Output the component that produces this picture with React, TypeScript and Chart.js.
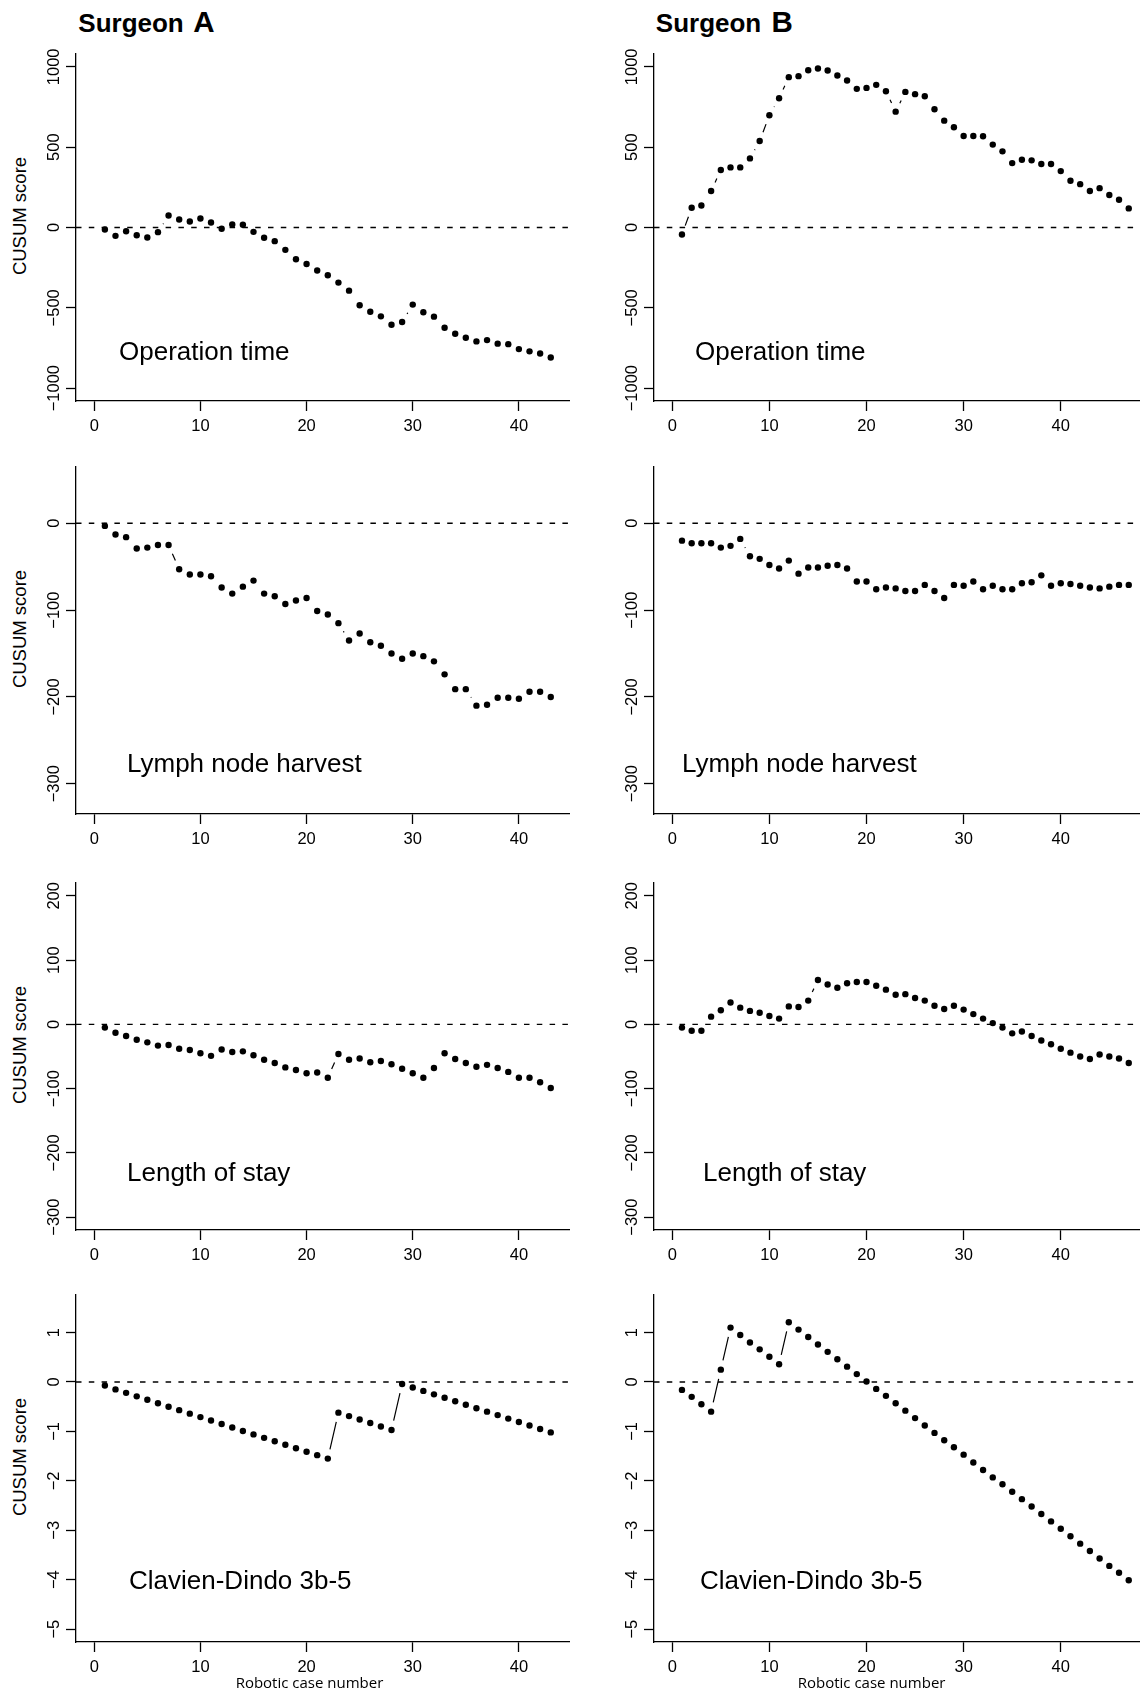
import React, { useEffect, useRef } from "react";
import { Chart, registerables } from "chart.js";

Chart.register(...registerables);

// ---------------- DATA ----------------
const casesA = [1, 2, 3, 4, 5, 6, 7, 8, 9, 10, 11, 12, 13, 14, 15, 16, 17, 18, 19, 20, 21, 22, 23, 24, 25, 26, 27, 28, 29, 30, 31, 32, 33, 34, 35, 36, 37, 38, 39, 40, 41, 42, 43];
const casesB = [1, 2, 3, 4, 5, 6, 7, 8, 9, 10, 11, 12, 13, 14, 15, 16, 17, 18, 19, 20, 21, 22, 23, 24, 25, 26, 27, 28, 29, 30, 31, 32, 33, 34, 35, 36, 37, 38, 39, 40, 41, 42, 43, 44, 45, 46, 47];

const opTimeA = [-12, -52, -23, -48, -62, -29, 75, 50, 37, 56, 31, -8, 19, 17, -27, -64, -85, -139, -198, -227, -268, -297, -343, -393, -484, -524, -553, -605, -588, -480, -528, -555, -624, -661, -686, -709, -701, -723, -726, -757, -771, -784, -809];
const opTimeB = [-44, 123, 137, 227, 358, 374, 374, 430, 538, 699, 805, 936, 942, 979, 990, 977, 946, 915, 863, 869, 888, 848, 721, 844, 830, 817, 736, 665, 624, 570, 570, 568, 516, 474, 401, 422, 418, 395, 395, 351, 291, 270, 227, 245, 202, 173, 119];

const lymphA = [-3, -13, -16, -29, -28, -25, -25, -53, -59, -59, -61, -74, -81, -73, -66, -81, -84, -93, -89, -86, -101, -105, -115, -135, -127, -137, -141, -150, -156, -150, -153, -159, -174, -191, -191, -210, -209, -201, -201, -202, -194, -194, -200];
const lymphB = [-20, -23, -23, -23, -28, -26, -18, -38, -41, -48, -52, -43, -58, -51, -51, -49, -48, -52, -67, -67, -76, -74, -75, -78, -78, -71, -78, -86, -71, -72, -67, -76, -72, -76, -76, -69, -68, -60, -72, -69, -70, -72, -74, -75, -73, -71, -71];

const stayA = [-5, -13, -18, -24, -28, -33, -32, -38, -40, -45, -49, -39, -43, -42, -48, -55, -60, -67, -71, -76, -75, -83, -46, -55, -53, -59, -57, -62, -69, -76, -83, -68, -45, -54, -60, -66, -63, -68, -74, -83, -83, -90, -99];
const stayB = [-5, -10, -10, 12, 22, 34, 26, 21, 18, 13, 9, 28, 27, 37, 69, 62, 57, 64, 66, 66, 60, 54, 46, 47, 41, 37, 29, 24, 29, 23, 16, 9, 2, -5, -14, -11, -18, -25, -31, -38, -44, -50, -54, -47, -50, -53, -60];

const clavienA = [-0.07, -0.15, -0.22, -0.29, -0.36, -0.43, -0.5, -0.57, -0.64, -0.71, -0.78, -0.85, -0.92, -0.99, -1.06, -1.13, -1.2, -1.27, -1.34, -1.41, -1.48, -1.55, -0.62, -0.69, -0.76, -0.83, -0.9, -0.97, -0.04, -0.11, -0.18, -0.25, -0.32, -0.39, -0.46, -0.53, -0.6, -0.67, -0.74, -0.81, -0.88, -0.95, -1.02];
const clavienB = [-0.16, -0.3, -0.45, -0.6, 0.25, 1.1, 0.95, 0.8, 0.66, 0.51, 0.36, 1.21, 1.06, 0.91, 0.76, 0.61, 0.46, 0.31, 0.16, 0.01, -0.14, -0.28, -0.43, -0.58, -0.73, -0.88, -1.03, -1.18, -1.32, -1.47, -1.63, -1.78, -1.93, -2.07, -2.22, -2.37, -2.52, -2.67, -2.82, -2.97, -3.12, -3.27, -3.42, -3.57, -3.72, -3.86, -4.01];

const xTicks = [0, 10, 20, 30, 40];
const opTimeTicks = [-1000, -500, 0, 500, 1000];
const lymphTicks = [-300, -200, -100, 0];
const stayTicks = [-300, -200, -100, 0, 100, 200];
const clavienTicks = [-5, -4, -3, -2, -1, 0, 1];

const panelLabels = ["Operation time", "Lymph node harvest", "Length of stay", "Clavien-Dindo 3b-5"];
const surgeonNames = ["A", "B"];
const yAxisTitle = "CUSUM score";
const xAxisTitle = "Robotic case number";

// ---------------- LAYOUT ----------------
const COL_LEFT = [76, 654];
const PLOT_W = 493;
const ROW_TOP = [54, 467, 883, 1295];
const PLOT_H = 347;
const YW = 40;
const XH = 40;
const PT = 10;
const PR = 8;
const GAP = 9.5;

const X_RANGE = [
  [-1.72, 44.72],
  [-1.88, 48.88],
];
const Y_RANGE = [
  [-1080, 1080],
  [-334.8, 64.8],
  [-320, 220],
  [-5.26, 1.76],
];
const Y_TICKS = [opTimeTicks, lymphTicks, stayTicks, clavienTicks];
const SERIES = [
  [opTimeA, opTimeB],
  [lymphA, lymphB],
  [stayA, stayB],
  [clavienA, clavienB],
];
const CASES = [casesA, casesB];
const LABEL_POS = [
  [[119, 360], [695, 360]],
  [[127, 772], [682, 772]],
  [[127, 1181], [703, 1181]],
  [[129, 1589], [700, 1589]],
];

const TICK_FONT = '16.5px "Liberation Sans", Arial, Helvetica, sans-serif';

const fmt = (v: number) => (v < 0 ? "\u2212" + String(Math.abs(v)) : String(v));

const cusumPlugin = {
  id: "cusumDecor",
  beforeDatasetsDraw(chart: any) {
    const { ctx, chartArea, scales } = chart;
    const y0 = scales.y.getPixelForValue(0);
    ctx.save();
    ctx.strokeStyle = "#000";
    ctx.lineWidth = 1.3;
    ctx.setLineDash([5.5, 7.3]);
    ctx.beginPath();
    ctx.moveTo(chartArea.left, y0);
    ctx.lineTo(chartArea.right, y0);
    ctx.stroke();
    ctx.restore();

    const pts = chart.getDatasetMeta(0).data;
    ctx.save();
    ctx.strokeStyle = "#000";
    ctx.lineWidth = 1.2;
    ctx.setLineDash([]);
    ctx.beginPath();
    for (let i = 1; i < pts.length; i++) {
      const a = pts[i - 1];
      const b = pts[i];
      const dx = b.x - a.x;
      const dy = b.y - a.y;
      const d = Math.hypot(dx, dy);
      if (d > 2 * GAP) {
        const ux = dx / d;
        const uy = dy / d;
        ctx.moveTo(a.x + ux * GAP, a.y + uy * GAP);
        ctx.lineTo(b.x - ux * GAP, b.y - uy * GAP);
      }
    }
    ctx.stroke();
    ctx.restore();
  },
  afterDraw(chart: any) {
    const { ctx, chartArea, scales } = chart;
    ctx.save();
    ctx.fillStyle = "#000";
    ctx.font = TICK_FONT;
    ctx.textBaseline = "alphabetic";
    ctx.textAlign = "center";
    for (const t of scales.x.ticks) {
      const px = scales.x.getPixelForValue(t.value);
      ctx.fillText(fmt(t.value), px, chartArea.bottom + 29.7);
    }
    for (const t of scales.y.ticks) {
      const py = scales.y.getPixelForValue(t.value);
      ctx.save();
      ctx.translate(chartArea.left - 17, py);
      ctx.rotate(-Math.PI / 2);
      ctx.fillText(fmt(t.value), 0, 0);
      ctx.restore();
    }
    ctx.restore();
  },
};

type PanelProps = {
  row: number;
  col: number;
};

function Panel({ row, col }: PanelProps) {
  const ref = useRef<HTMLCanvasElement>(null);
  const left = COL_LEFT[col] - YW;
  const top = ROW_TOP[row] - PT;
  const width = YW + PLOT_W + PR;
  const height = PT + PLOT_H + XH;

  useEffect(() => {
    const xs = CASES[col];
    const ys = SERIES[row][col];
    const yTicks = Y_TICKS[row];
    const chart = new Chart(ref.current as HTMLCanvasElement, {
      type: "scatter",
      data: {
        datasets: [
          {
            data: xs.map((x, i) => ({ x, y: ys[i] })),
            pointRadius: 3.2,
            pointHoverRadius: 3.2,
            pointBackgroundColor: "#000",
            pointBorderWidth: 0,
            backgroundColor: "#000",
            borderColor: "#000",
            showLine: false,
          } as any,
        ],
      },
      options: {
        animation: false,
        responsive: false,
        maintainAspectRatio: false,
        devicePixelRatio: 1,
        events: [],
        layout: { padding: { top: PT, right: PR, left: 0, bottom: 0 } },
        plugins: {
          legend: { display: false },
          tooltip: { enabled: false },
          title: { display: false },
        },
        scales: {
          x: {
            type: "linear",
            position: "bottom",
            min: X_RANGE[col][0],
            max: X_RANGE[col][1],
            afterBuildTicks: (s: any) => {
              s.ticks = xTicks.map((v) => ({ value: v }));
            },
            afterFit: (s: any) => {
              s.height = XH;
            },
            ticks: { display: false },
            grid: {
              display: true,
              drawOnChartArea: false,
              drawTicks: true,
              tickLength: 10,
              tickWidth: 1.3,
              tickColor: "#000",
            },
            border: { display: true, color: "#000", width: 1.3 },
          },
          y: {
            type: "linear",
            position: "left",
            min: Y_RANGE[row][0],
            max: Y_RANGE[row][1],
            afterBuildTicks: (s: any) => {
              s.ticks = yTicks.map((v) => ({ value: v }));
            },
            afterFit: (s: any) => {
              s.width = YW;
            },
            ticks: { display: false },
            grid: {
              display: true,
              drawOnChartArea: false,
              drawTicks: true,
              tickLength: 10,
              tickWidth: 1.3,
              tickColor: "#000",
            },
            border: { display: true, color: "#000", width: 1.3 },
          },
        },
      } as any,
      plugins: [cusumPlugin],
    });
    return () => chart.destroy();
  }, [row, col]);

  return (
    <canvas
      ref={ref}
      width={width}
      height={height}
      style={{ position: "absolute", left, top, width, height, display: "block" }}
    />
  );
}

const LIB = '"Liberation Sans", Arial, Helvetica, sans-serif';
const LIB_ASC = 0.8465;
const OPEN = '"Open Sans", sans-serif';
const OPEN_ASC = 0.888;

function Text({
  x,
  baseline,
  size,
  text,
  bold,
  family = LIB,
  asc = LIB_ASC,
}: {
  x: number;
  baseline: number;
  size: number;
  text: string;
  bold?: boolean;
  family?: string;
  asc?: number;
}) {
  return (
    <div
      style={{
        position: "absolute",
        left: x,
        top: baseline - asc * size,
        fontSize: size,
        lineHeight: 1,
        fontFamily: family,
        fontWeight: bold ? 700 : 400,
        whiteSpace: "nowrap",
        color: "#000",
      }}
    >
      {text}
    </div>
  );
}

export default function App() {
  const rows = [0, 1, 2, 3];
  const cols = [0, 1];
  return (
    <div
      style={{
        position: "absolute",
        left: 0,
        top: 0,
        width: 1140,
        height: 1696,
        overflow: "hidden",
        background: "#fff",
      }}
    >
      {rows.map((r) =>
        cols.map((c) => <Panel key={`${r}-${c}`} row={r} col={c} />)
      )}

      {/* Surgeon titles */}
      <Text x={78.3} baseline={32.3} size={26} bold text="Surgeon" />
      <Text x={193.3} baseline={32.3} size={29.5} bold text={surgeonNames[0]} />
      <Text x={655.8} baseline={32.3} size={26} bold text="Surgeon" />
      <Text x={771.5} baseline={32.3} size={29.5} bold text={surgeonNames[1]} />

      {/* Panel labels */}
      {rows.map((r) =>
        cols.map((c) => (
          <Text
            key={`lab-${r}-${c}`}
            x={LABEL_POS[r][c][0]}
            baseline={LABEL_POS[r][c][1]}
            size={26}
            text={panelLabels[r]}
          />
        ))
      )}

      {/* Y axis titles */}
      {rows.map((r) => (
        <div
          key={`yt-${r}`}
          style={{
            position: "absolute",
            left: 20 - 100,
            top: ROW_TOP[r] + PLOT_H / 2 - 12 - 10,
            width: 200,
            height: 20,
            lineHeight: "20px",
            textAlign: "center",
            fontFamily: LIB,
            fontSize: 18.5,
            whiteSpace: "nowrap",
            transform: "rotate(-90deg)",
            transformOrigin: "50% 50%",
            color: "#000",
          }}
        >
          {yAxisTitle}
        </div>
      ))}

      {/* X axis titles */}
      {[309.5, 871.6].map((cx, i) => (
        <div
          key={`xt-${i}`}
          style={{
            position: "absolute",
            left: cx - 150,
            top: 1688 - OPEN_ASC * 15,
            width: 300,
            textAlign: "center",
            fontFamily: OPEN,
            fontSize: 15,
            lineHeight: 1,
            whiteSpace: "nowrap",
            color: "#000",
          }}
        >
          {xAxisTitle}
        </div>
      ))}
    </div>
  );
}
